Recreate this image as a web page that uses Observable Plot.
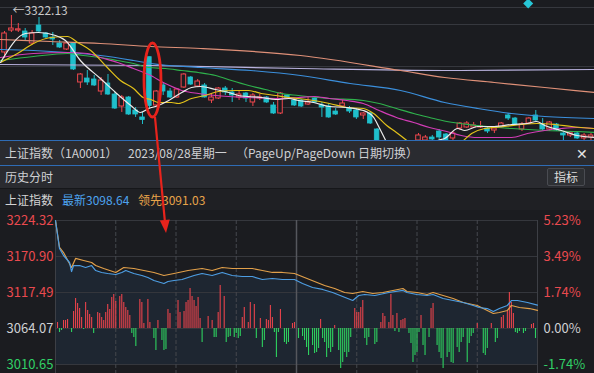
<!DOCTYPE html>
<html><head><meta charset="utf-8">
<script src="https://cdn.jsdelivr.net/npm/d3@7"></script>
<script src="https://cdn.jsdelivr.net/npm/@observablehq/plot@0.6"></script>
<style>
html,body{margin:0;padding:0;background:#1b1c20;width:594px;height:373px;overflow:hidden;font-family:"Noto Sans CJK SC",sans-serif;}
#top{position:absolute;left:0;top:0;width:594px;height:140px;z-index:5;}
#top svg{overflow:visible;display:block;}
.row{position:absolute;left:0;width:594px;box-sizing:border-box;font-size:12px;color:#cfd0d3;}
.row span{position:absolute;white-space:nowrap;}
#h1{top:140px;height:26px;background:#2a2b30;border-top:1px solid #2f6cb5;border-bottom:1px solid #2f6cb5;line-height:24px;}
#h2{top:166px;height:23px;background:#2a2b30;border-bottom:1px solid #16171a;line-height:22px;}
#h3{top:189px;height:21px;background:#1f2024;line-height:21px;}
#btn{left:547px;top:2px;width:38px;height:18px;box-sizing:border-box;border:1px solid #4a4c52;border-radius:2px;background:#2e3034;text-align:center;line-height:16px;color:#dcdcdc;}
#bottom{position:absolute;left:0;top:210px;width:594px;height:163px;}
#bottom svg{display:block;}
</style></head>
<body>
<div id="top"></div>
<div class="row" id="h1">
  <span style="left:5px">上证指数（1A0001）</span>
  <span style="left:128px">2023/08/28星期一</span>
  <span style="left:236px">（PageUp/PageDown 日期切换）</span>
  <span style="left:576px;font-size:14px;color:#e4e4e4">✕</span>
</div>
<div class="row" id="h2">
  <span style="left:5px">历史分时</span>
  <span id="btn">指标</span>
</div>
<div class="row" id="h3">
  <span style="left:5px;color:#d4d4d4">上证指数</span>
  <span style="left:62px;color:#4da3ef">最新3098.64</span>
  <span style="left:138px;color:#e8a44a">领先3091.03</span>
</div>
<div id="bottom"></div>
<script>
// ---------- daily candles (index, open, high, low, close) ----------
const candleOpen  = [3230.8,3285.1,3285.1,3282.6,3253.0,3297.4,3277.7,3267.8,3253.0,3238.2,3253.0,3156.7,3166.5,3164.1,3134.4,3154.2,3127.0,3097.4,3119.6,3087.5,3070.3,3219.2,3099.9,3149.3,3134.4,3119.6,3144.3,3169.0,3146.8,3149.3,3112.2,3117.2,3141.8,3132.0,3119.6,3129.5,3107.3,3117.2,3119.6,3099.9,3080.1,3124.6,3112.2,3112.2,3102.3,3117.2,3099.9,3097.4,3085.0,3097.4,3092.4,3087.5,3075.2,3080.1,3040.6,3001.0,2983.8,2964.0,2969.0,2964.0,3013.4,3013.4,3020.8,3035.6,3028.2,3018.4,3043.0,3045.5,3045.5,3045.5,3043.0,3038.1,3045.5,3075.2,3067.7,3040.6,3055.4,3075.2,3052.9,3040.6,3052.9,3030.7,3025.8,3030.7,3018.4,3020.8];
const candleHigh  = [3282.6,3322.1,3302.4,3290.0,3285.1,3317.2,3280.2,3280.2,3260.4,3255.5,3255.5,3178.9,3186.3,3174.0,3169.0,3176.4,3132.0,3124.6,3122.1,3094.9,3082.6,3219.2,3136.9,3154.2,3141.8,3141.8,3178.9,3171.5,3164.1,3154.2,3129.5,3144.3,3146.8,3141.8,3136.9,3132.0,3129.5,3127.0,3122.1,3107.3,3132.0,3127.0,3117.2,3114.7,3119.6,3122.1,3107.3,3104.8,3092.4,3112.2,3097.4,3092.4,3082.6,3082.6,3043.0,3008.5,2988.7,2976.4,2983.8,3001.0,3030.7,3025.8,3025.8,3040.6,3030.7,3035.6,3057.9,3060.3,3057.9,3060.3,3045.5,3045.5,3057.9,3080.1,3070.3,3057.9,3070.3,3087.5,3067.7,3060.3,3055.4,3033.2,3035.6,3033.2,3030.7,3030.7];
const candleLow   = [3215.9,3280.2,3280.2,3260.4,3248.1,3280.2,3265.3,3248.1,3240.6,3235.7,3186.3,3141.8,3149.3,3146.8,3124.6,3124.6,3090.0,3082.6,3075.2,3070.3,3052.9,3092.4,3097.4,3124.6,3117.2,3117.2,3141.8,3149.3,3144.3,3118.4,3104.8,3114.7,3124.6,3107.3,3112.2,3107.3,3097.4,3112.2,3104.8,3077.6,3077.6,3114.7,3097.4,3094.9,3099.9,3105.0,3070.3,3068.0,3075.2,3094.9,3080.1,3065.3,3065.3,3052.9,2998.5,2969.0,2959.1,2951.7,2949.2,2959.1,3008.5,3011.0,3013.4,3015.9,3008.5,3011.0,3038.1,3043.0,3043.0,3043.0,3030.7,3030.7,3043.0,3062.8,3050.5,3035.6,3052.9,3060.3,3038.1,3035.6,3035.6,3013.4,3020.8,3015.9,3013.4,3013.4];
const candleClose = [3277.7,3290.0,3288.0,3267.8,3277.7,3282.6,3267.8,3262.9,3243.1,3253.0,3188.8,3176.4,3156.7,3149.3,3161.6,3127.0,3092.4,3119.6,3077.6,3077.6,3064.07,3098.64,3134.4,3134.4,3119.6,3139.4,3176.4,3151.7,3159.1,3119.6,3119.6,3141.8,3132.0,3124.6,3127.0,3117.2,3124.6,3119.6,3107.3,3080.1,3129.5,3117.2,3099.9,3097.4,3107.3,3107.3,3094.9,3070.3,3077.6,3104.8,3085.0,3070.3,3080.1,3055.4,3001.0,2976.4,2969.0,2971.4,2956.6,2996.0,3025.8,3020.8,3015.9,3020.8,3013.4,3030.7,3055.4,3055.4,3050.5,3048.0,3035.6,3043.0,3055.4,3067.7,3052.9,3052.9,3067.7,3062.8,3040.6,3057.9,3038.1,3025.8,3033.2,3018.4,3025.8,3025.8];

// ---------- moving averages: [candle index, price] ----------
const ma5 = [[-0.58,3206.1],[3.04,3277.7],[4.93,3280.2],[7.39,3272.8],[8.84,3260.4],[11.0,3211.0],[13.9,3166.5],[16.1,3132.0],[18.3,3099.9],[19.7,3082.6],[20.9,3092.4],[22.3,3099.9],[23.8,3112.2],[25.7,3132.0],[27.1,3144.3],[28.4,3146.8],[30.6,3139.4],[32.5,3132.0],[33.9,3124.6],[35.4,3122.1],[37.2,3119.6],[39.3,3114.7],[41.2,3117.2],[42.6,3112.2],[44.8,3107.3],[47.1,3097.4],[49.6,3094.9],[52.0,3087.5],[53.5,3070.3],[54.3,3045.5],[55.4,3008.5],[57.4,2951.7],[58.8,2939.3],[61.0,2964.0],[62.8,3013.4],[63.8,3018.4],[65.7,3043.0],[66.7,3038.1],[68.6,3048.0],[71.0,3048.0],[73.5,3052.9],[75.8,3055.4],[77.1,3060.3],[78.3,3050.5],[80.7,3038.1],[83.0,3025.8],[85.5,3020.8]];
const ma10 = [[-0.58,3206.1],[1.88,3228.3],[4.2,3253.0],[6.67,3267.8],[9.13,3270.3],[10.6,3255.5],[12.5,3235.7],[14.9,3193.7],[16.8,3161.6],[18.7,3141.8],[20.1,3119.6],[21.2,3114.7],[22.3,3107.3],[24.2,3107.3],[25.2,3104.8],[27.1,3117.2],[29.1,3124.6],[31.0,3134.4],[33.5,3136.9],[35.4,3136.9],[37.2,3129.5],[39.3,3124.6],[41.2,3119.6],[42.6,3117.2],[44.8,3112.2],[47.1,3104.8],[49.6,3094.9],[52.0,3092.4],[53.5,3080.1],[55.4,3050.5],[56.8,3033.2],[58.7,3008.5],[61.7,2976.4],[64.6,2988.7],[66.2,3008.5],[67.7,3030.7],[69.6,3043.0],[72.5,3048.0],[74.9,3052.9],[77.2,3055.4],[79.7,3052.9],[82.2,3048.0],[85.5,3043.0]];
const ma20 = [[-0.58,3218.4],[4.2,3228.3],[9.13,3230.8],[12.0,3228.3],[13.9,3218.4],[16.4,3206.1],[18.7,3191.2],[20.9,3176.4],[23.3,3154.2],[25.7,3136.9],[28.1,3129.5],[30.6,3124.6],[35.4,3119.6],[40.1,3117.2],[42.6,3119.6],[44.8,3122.1],[47.1,3117.2],[49.6,3112.2],[52.0,3104.8],[54.3,3087.5],[56.8,3070.3],[59.3,3057.9],[61.6,3045.5],[64.1,3035.6],[66.2,3025.8],[68.6,3020.8],[71.0,3020.8],[73.5,3020.8],[75.8,3030.7],[78.3,3038.1],[80.7,3043.0],[83.0,3045.5],[85.5,3043.0]];
const ma30 = [[-0.58,3211.0],[4.2,3220.9],[9.13,3228.3],[11.4,3223.4],[13.9,3218.4],[16.4,3211.0],[18.7,3203.6],[20.9,3193.7],[23.3,3191.2],[25.7,3186.3],[28.1,3181.4],[30.6,3174.0],[32.9,3161.6],[35.4,3149.3],[37.8,3139.4],[40.1,3129.5],[42.6,3124.6],[47.1,3117.2],[52.0,3112.2],[54.3,3104.8],[56.8,3092.4],[59.3,3080.1],[61.6,3070.3],[64.1,3060.3],[68.6,3050.5],[73.5,3043.0],[78.3,3038.1],[83.0,3035.6],[85.5,3033.2]];
const ma60 = [[-0.58,3238.2],[4.2,3235.7],[9.13,3230.8],[13.9,3223.4],[18.7,3211.0],[21.2,3203.6],[28.4,3193.7],[35.7,3186.3],[42.9,3174.0],[50.1,3154.2],[57.4,3136.9],[63.8,3107.3],[68.6,3092.4],[73.5,3080.1],[78.3,3072.7],[85.5,3067.7]];
const ma120 = [[-0.58,3262.9],[6.67,3257.9],[13.9,3253.0],[21.2,3245.6],[28.4,3240.6],[42.9,3223.4],[57.4,3186.3],[63.8,3169.0],[71.0,3156.7],[78.3,3144.3],[85.5,3132.0]];
const ma250 = [[-0.58,3201.1],[21.2,3198.7],[42.9,3191.2],[63.8,3186.3],[85.5,3188.8]];
const topGrid = [3341.9, 3299.9, 3196.2, 3094.9];
const highLabel = [{i: 1, p: 3322.13, text: "←3322.13"}];
const diamondPt = [{i: 75.9, p: 3351.8}];
const ellipseX = [20.29, 22.75], ellipseY = [3070.2, 3253.0];
const arrowX = [21.88, 23.48], arrowY = [3070.2, 2783.7];

// ---------- intraday (minute, price) ----------
const prevClose = 3064.07;
const priceLine = [[0,3224.32],[2,3182.8],[4,3172.4],[7,3162.0],[8,3148.6],[9,3157.5],[12,3157.5],[15,3154.6],[18,3157.5],[20,3150.1],[23,3147.2],[26,3145.7],[30,3144.2],[33,3147.2],[35,3150.1],[39,3145.7],[43,3142.7],[46,3139.7],[49,3135.3],[54,3130.8],[56,3133.8],[59,3135.3],[63,3136.8],[66,3139.7],[69,3142.7],[73,3145.7],[78,3142.7],[83,3147.2],[88,3142.7],[93,3141.2],[98,3141.2],[103,3136.8],[108,3138.3],[113,3136.8],[119,3136.8],[123,3130.8],[128,3124.9],[133,3122.0],[138,3117.5],[143,3111.6],[148,3105.6],[151,3113.0],[154,3114.5],[159,3113.0],[166,3117.5],[173,3120.5],[175,3117.5],[180,3114.5],[185,3113.0],[188,3114.5],[193,3108.6],[198,3105.6],[203,3102.6],[208,3098.2],[211,3095.2],[215,3093.7],[218,3089.3],[221,3093.7],[225,3098.2],[227,3105.6],[230,3105.6],[235,3102.6],[240,3098.64]];
const leadLine = [[0,3224.32],[2,3184.3],[4,3176.8],[8,3154.6],[10,3168.0],[14,3165.0],[18,3162.0],[20,3157.5],[24,3153.1],[30,3147.2],[34,3154.6],[39,3153.1],[44,3150.1],[49,3147.2],[54,3142.7],[59,3145.7],[66,3150.1],[73,3153.1],[78,3150.1],[83,3154.6],[88,3153.1],[98,3153.1],[103,3150.1],[108,3147.2],[113,3147.2],[119,3145.7],[124,3139.7],[129,3133.8],[134,3127.9],[139,3123.4],[144,3117.5],[148,3116.0],[153,3119.0],[158,3116.0],[163,3117.5],[168,3120.5],[173,3123.4],[175,3119.0],[180,3117.5],[185,3114.5],[188,3117.5],[193,3113.0],[198,3108.6],[203,3102.6],[210,3098.2],[215,3090.8],[218,3086.3],[221,3087.8],[225,3090.8],[227,3098.2],[231,3095.2],[236,3093.7],[240,3091.03]];
const redBars = [[1,8.9],[4,11.9],[5,11.9],[6,13.4],[9,25.2],[10,44.5],[11,37.1],[12,29.7],[13,16.3],[15,38.6],[16,26.7],[17,20.8],[18,16.3],[21,23.7],[22,22.3],[23,16.3],[24,11.9],[25,23.7],[26,35.6],[27,28.2],[28,46],[29,50.5],[30,40.1],[32,47.5],[33,50.5],[34,38.6],[35,31.2],[36,26.7],[37,19.3],[42,43],[43,38.6],[44,7.4],[46,43],[47,8.9],[51,11.9],[56,28.2],[57,22.3],[61,41.6],[62,23.7],[64,25.2],[65,38.6],[66,41.6],[67,59.4],[68,47.5],[69,41.6],[70,32.7],[71,46],[72,14.8],[76,17.8],[78,11.9],[81,23.7],[82,63.8],[84,47.5],[93,16.3],[94,31.2],[96,8.9],[97,38.6],[99,35.6],[102,14.8],[105,13.4],[106,11.9],[107,34.1],[108,16.3],[112,28.2],[118,7.4],[119,8.9],[132,13.4],[139,4.5],[149,29.7],[150,23.7],[151,23.7],[152,31.2],[153,41.6],[162,8.9],[163,22.3],[164,17.8],[166,8.9],[167,50.5],[168,19.3],[170,22.3],[172,11.9],[173,13.4],[174,14.8],[182,19.3],[187,29.7],[188,37.1],[210,7.4],[217,7.4],[222,16.3],[223,19.3],[225,25.2],[226,53.4],[227,38.6],[228,22.3],[237,5.9],[238,7.4]];
const greenBars = [[2,5.9],[3,3.0],[8,5.9],[14,1.5],[19,7.4],[38,7.4],[39,13.4],[40,26.7],[49,14.8],[50,32.7],[53,17.8],[54,32.7],[55,31.2],[73,20.8],[79,13.4],[80,13.4],[85,20.8],[86,13.4],[87,11.9],[89,13.4],[90,7.4],[91,14.8],[92,11.9],[100,14.8],[103,28.2],[104,17.8],[109,5.9],[110,43],[111,5.9],[114,20.8],[115,23.7],[116,20.8],[121,14.8],[123,11.9],[124,17.8],[125,28.2],[126,40.1],[128,25.2],[129,37.1],[130,35.6],[131,29.7],[133,14.8],[134,20.8],[135,43],[136,29.7],[137,35.6],[138,28.2],[141,32.7],[142,59.4],[143,50.5],[144,35.6],[145,43],[146,35.6],[147,13.4],[154,14.8],[155,25.2],[156,13.4],[159,23.7],[160,20.8],[169,4.5],[171,5.9],[176,7.4],[177,22.3],[178,50.5],[179,40.1],[180,35.6],[181,5.9],[183,25.2],[184,40.1],[186,13.4],[190,25.2],[191,35.6],[192,44.5],[193,59.4],[195,43],[196,35.6],[197,50.5],[198,51.9],[200,28.2],[201,35.6],[202,20.8],[203,13.4],[205,50.5],[206,22.3],[207,11.9],[208,7.4],[213,37.1],[214,40.1],[215,29.7],[219,20.8],[220,14.8],[229,5.9],[230,7.4],[231,4.5],[233,7.4],[234,4.5],[239,14.8]];
const leftTicks = [3224.32, 3170.90, 3117.49, 3064.07, 3010.65];
const leftLabels = ["3224.32","3170.90","3117.49","3064.07","3010.65"];
const rightLabels = ["5.23%","3.49%","1.74%","0.00%","-1.74%"];
const tickColors = ["#ea4a4f","#ea4a4f","#ea4a4f","#cfd0d3","#31cf66"];
const halfHours = [30, 60, 90, 150, 180, 210];

// ---------- top chart ----------
const RED = "#f0484e", CYAN = "#1fbfcb", BG = "#1b1c20";
const candles = candleOpen.map((o, i) => ({i, o, h: candleHigh[i], l: candleLow[i], c: candleClose[i], up: candleClose[i] >= o}));
const up = candles.filter(d => d.up), down = candles.filter(d => !d.up);
const maSpec = [[ma250,"#b9b2de"],[ma120,"#df9078"],[ma60,"#3b8fdc"],[ma30,"#2fb24c"],[ma20,"#d23cb6"],[ma10,"#e3c21a"],[ma5,"#ececec"]];

function annotation(index, scales) {
  const ns = "http://www.w3.org/2000/svg";
  const g = document.createElementNS(ns, "g");
  const ex = ellipseX.map(scales.x), ey = ellipseY.map(scales.y);
  const el = document.createElementNS(ns, "ellipse");
  el.setAttribute("cx", (ex[0] + ex[1]) / 2);
  el.setAttribute("cy", (ey[0] + ey[1]) / 2);
  el.setAttribute("rx", Math.abs(ex[1] - ex[0]) / 2);
  el.setAttribute("ry", Math.abs(ey[1] - ey[0]) / 2);
  el.setAttribute("fill", "none");
  el.setAttribute("stroke", "#e8231c");
  el.setAttribute("stroke-width", 2.8);
  g.appendChild(el);
  const ax = arrowX.map(scales.x), ay = arrowY.map(scales.y);
  const ang = Math.atan2(ay[1] - ay[0], ax[1] - ax[0]);
  const L = 13, W = 5;
  const bx = ax[1] - L * Math.cos(ang), by = ay[1] - L * Math.sin(ang);
  const ln = document.createElementNS(ns, "line");
  ln.setAttribute("x1", ax[0]); ln.setAttribute("y1", ay[0]);
  ln.setAttribute("x2", bx); ln.setAttribute("y2", by);
  ln.setAttribute("stroke", "#e8231c"); ln.setAttribute("stroke-width", 2.2);
  g.appendChild(ln);
  const pg = document.createElementNS(ns, "polygon");
  const s = Math.sin(ang), c = Math.cos(ang);
  pg.setAttribute("points", `${ax[1]},${ay[1]} ${bx + W * s},${by - W * c} ${bx - W * s},${by + W * c}`);
  pg.setAttribute("fill", "#e8231c");
  g.appendChild(pg);
  return g;
}

const topChart = Plot.plot({
  width: 594, height: 140, marginTop: 0, marginBottom: 0, marginLeft: 0, marginRight: 0,
  x: {domain: [-0.58, 85.51], axis: null},
  y: {domain: [3013.4, 3359.2], axis: null},
  style: {background: "transparent", overflow: "visible", fontFamily: "Noto Sans CJK SC"},
  marks: [
    Plot.ruleY(topGrid, {stroke: "#36383e", strokeWidth: 1}),
    Plot.ruleX(candles, {x: "i", y1: "l", y2: "h", stroke: d => d.up ? RED : CYAN, strokeWidth: 1, clip: true}),
    Plot.rect(down, {x1: d => d.i - 0.33, x2: d => d.i + 0.33, y1: "o", y2: "c", fill: CYAN, stroke: CYAN, strokeWidth: 0.8, clip: true}),
    Plot.rect(up, {x1: d => d.i - 0.33, x2: d => d.i + 0.33, y1: "o", y2: "c", fill: BG, stroke: RED, strokeWidth: 1, clip: true}),
    ...maSpec.map(([data, color]) => Plot.line(data, {x: d => d[0], y: d => d[1], stroke: color, strokeWidth: 1.2, curve: "monotone-x", clip: true})),
    Plot.text(highLabel, {x: "i", y: "p", text: "text", textAnchor: "start", dx: 1, dy: -4, fill: "#c9c9c9", fontSize: 12}),
    Plot.dot(diamondPt, {x: "i", y: "p", symbol: "diamond2", r: 4.5, fill: "#27c6d6", stroke: "none"}),
    annotation
  ]
});
document.getElementById("top").appendChild(topChart);

// ---------- bottom chart ----------
const tickData = leftTicks.map((v, k) => ({v, left: leftLabels[k], right: rightLabels[k], color: tickColors[k]}));
const bottomChart = Plot.plot({
  width: 594, height: 163, marginTop: 10, marginBottom: 9, marginLeft: 55, marginRight: 57,
  x: {domain: [0, 240], axis: null},
  y: {domain: [3010.65, 3224.32], axis: null},
  style: {background: "transparent", fontFamily: "Noto Sans CJK SC", fontSize: "13px"},
  marks: [
    Plot.areaY(priceLine, {x: d => d[0], y1: 3010.65, y2: d => d[1], fill: "#243247", fillOpacity: 0.45}),
    Plot.ruleY(leftTicks, {stroke: "#35373d", strokeWidth: 1}),
    Plot.ruleX(halfHours, {stroke: "#45474d", strokeDasharray: "4,2", insetBottom: -9}),
    Plot.ruleX([120], {stroke: "#55575d", strokeWidth: 1.5, insetBottom: -9}),
    Plot.ruleX([0, 240], {stroke: "#3d3f45", insetBottom: -9}),
    Plot.ruleX(redBars, {x: d => d[0], y1: prevClose, y2: d => prevClose + d[1], stroke: "#e8434b", strokeWidth: 1.1}),
    Plot.ruleX(greenBars, {x: d => d[0], y1: prevClose, y2: d => prevClose - d[1], stroke: "#2ed15f", strokeWidth: 1.1}),
    Plot.line(leadLine, {x: d => d[0], y: d => d[1], stroke: "#e2a04a", strokeWidth: 1.2}),
    Plot.line(priceLine, {x: d => d[0], y: d => d[1], stroke: "#4d9de2", strokeWidth: 1.2}),
    Plot.text(tickData, {y: "v", text: "left", frameAnchor: "left", textAnchor: "start", dx: -49, fill: "color", fontSize: 13}),
    Plot.text(tickData, {y: "v", text: "right", frameAnchor: "right", textAnchor: "start", dx: 6, fill: "color", fontSize: 13})
  ]
});
document.getElementById("bottom").appendChild(bottomChart);
</script>
</body></html>
